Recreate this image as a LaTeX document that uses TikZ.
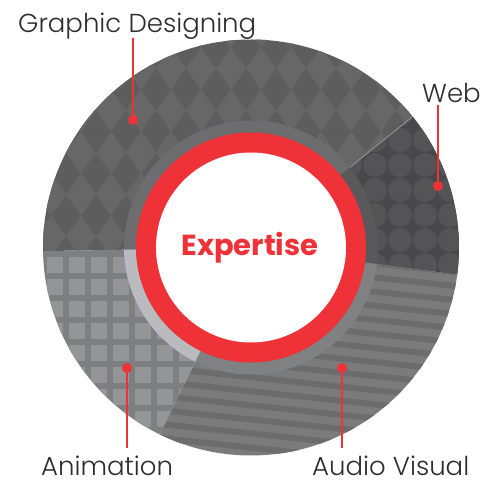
\documentclass[tikz,border=0pt]{standalone}
\usepackage{fontspec}
\setsansfont{Poppins}
\newfontfamily\skillfont{Poppins Light}
\usepackage{tikz}
\definecolor{gdBase}{HTML}{5D5D5E}
\definecolor{gdDiamond}{HTML}{676768}
\definecolor{webBase}{HTML}{48484A}
\definecolor{webCircle}{HTML}{545456}
\definecolor{avLight}{HTML}{7B7B7C}
\definecolor{avDark}{HTML}{6C6C6D}
\definecolor{anBase}{HTML}{7E7F81}
\definecolor{anSquare}{HTML}{939597}
\definecolor{gdRing}{HTML}{6D6D6F}
\definecolor{webRing}{HTML}{59595B}
\definecolor{avRing}{HTML}{808182}
\definecolor{anRing}{HTML}{BABBBE}
\definecolor{expRed}{HTML}{EE3237}
\definecolor{labelGray}{HTML}{2D2D2D}
\tikzset{
	dot/.style={circle, fill=expRed, inner sep=0pt, minimum size=10pt},
	leader/.style={draw=expRed, line width=1.2pt},
	skill/.style={inner sep=0pt, text depth=0pt, text=labelGray, font=\skillfont\fontsize{26}{30}\selectfont},
}

\begin{document}
\begin{tikzpicture}[x=1pt, y=1pt]
				\useasboundingbox (-251,-233.5) rectangle (245,247.5);
				% graphic designing
				\begin{scope}
					\clip (0,0) -- (39:208) arc[start angle=39, end angle=181, radius=208] -- cycle;
					\fill[gdBase] (-210,-10) rectangle (210,210);
					\foreach \i in {-8,...,7} {
						\foreach \j in {0,...,5} {
							\fill[gdDiamond] (\i*30+10, \j*42-10) -- ++(15,21) -- ++(-15,21) -- ++(-15,-21) -- cycle;
						}
					}
				\end{scope}
				% web
				\begin{scope}
					\clip (0,0) -- (-7.5:208) arc[start angle=-7.5, end angle=39, radius=208] -- cycle;
					\fill[webBase] (0,-40) rectangle (210,140);
					\foreach \i in {-2,...,4} {
						\foreach \j in {-2,...,6} {
							\fill[webCircle] (124+\i*25, 82.5-\j*25) circle (12);
						}
					}
				\end{scope}
				% audio visual
				\begin{scope}
					\clip (0,0) -- (244:208) arc[start angle=244, end angle=352.5, radius=208] -- cycle;
					\fill[avLight] (-100,-210) rectangle (210,30);
					\begin{scope}[rotate=-6]
						\foreach \k in {0,...,20} {
							\fill[avDark] (-120,-230+\k*14) rectangle (230,-224+\k*14);
						}
					\end{scope}
				\end{scope}
				% animation
				\begin{scope}
					\clip (0,0) -- (181:208) arc[start angle=181, end angle=244, radius=208] -- cycle;
					\fill[anBase] (-210,-200) rectangle (0,5);
					\foreach \i in {0,...,9} {
						\foreach \j in {0,...,9} {
							\fill[anSquare] (-204+\i*22, -9.5-\j*22) rectangle ++(16,-16);
						}
					}
				\end{scope}
				\draw[gray!70, line width=.6pt] (39:127) -- (39:208);
				% rings
				\foreach \a/\b/\c in {39/181/gdRing, -7.5/39/webRing, 244/352.5/avRing, 181/244/anRing} {
					\fill[\c] (\a:127) arc[start angle=\a, end angle=\b, radius=127] -- (\b:115) arc[start angle=\b, end angle=\a, radius=115] -- cycle;
				}
				\fill[expRed] (0,0) circle (115);
				\fill[white] (0,0) circle (95);
				\node[anchor=base, inner sep=0pt, text=expRed, font=\sffamily\bfseries\fontsize{29}{32}\selectfont] (expertise) at (-1,-8.5) {Expertise};
				% labels
				\node[skill, anchor=base west] (gdLabel) at (-233,214.5) {Graphic Designing};
				\node[skill, anchor=base west] (webLabel) at (171,144.5) {Web};
				\node[skill, anchor=base west] (anLabel) at (-210,-228) {Animation};
				\node[skill, anchor=base west] (avLabel) at (61,-228) {Audio Visual};
				\node[dot] (gdDot) at (-118,127.5) {};
				\node[dot] (webDot) at (187,61.5) {};
				\node[dot] (anDot) at (-124,-120.5) {};
				\node[dot] (avDot) at (91,-120.5) {};
				\draw[leader] (gdDot) -- ([yshift=-5pt]gdDot |- gdLabel.south);
				\draw[leader] (webDot) -- ([yshift=-2pt]webDot |- webLabel.south);
				\draw[leader] (anDot) -- ([yshift=7.5pt]anDot |- anLabel.north);
				\draw[leader] (avDot) -- ([yshift=7.5pt]avDot |- avLabel.north);
\end{tikzpicture}
\end{document}
